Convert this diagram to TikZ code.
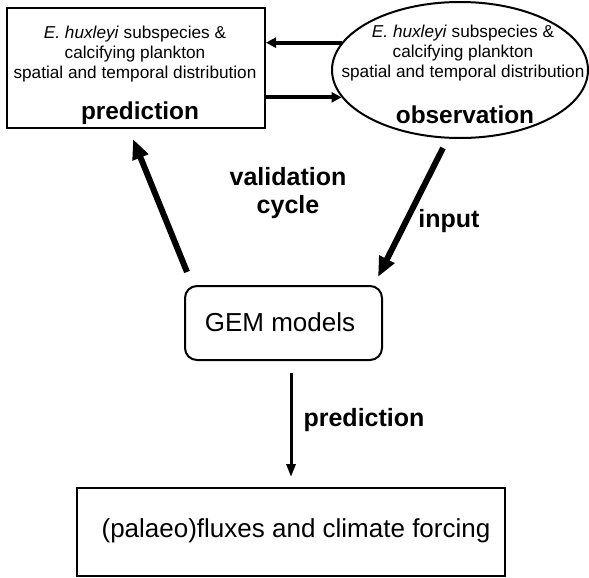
\documentclass[tikz,border=0pt]{standalone}
\usepackage{fontspec}
\setmainfont{Liberation Sans}
\usepackage{tikz}
\usetikzlibrary{shapes,arrows.meta,positioning,calc,shapes.geometric}

\begin{document}
\begin{tikzpicture}[x=0.5pt,y=-0.5pt,
    smalltext/.style={font=\fontsize{8.6}{9.8}\selectfont, align=center, inner sep=0pt},
    bigtext/.style={font=\fontsize{12.2}{14}\selectfont\bfseries, align=center, inner sep=0pt},
    plaintext/.style={font=\fontsize{13}{15}\selectfont, inner sep=0pt},
    fatarrow/.style={-{Triangle[length=10pt,width=8pt]}, line width=3pt},
    midarrow/.style={-{Triangle[length=5pt,width=5pt]}, line width=2pt},
    thinarrow/.style={-{Triangle[length=6.5pt,width=4.5pt]}, line width=1.5pt}]
    \useasboundingbox (0,0) rectangle (589,578);

    % Prediction box (top left)
    \node[draw, line width=1pt, minimum width=129pt, minimum height=60pt] (pred) at (136,68) {};
    \node[smalltext] (predtxt) at (135,54) {\textit{E. huxleyi} subspecies \&\\calcifying plankton\\spatial and temporal distribution};
    \node[bigtext] (predlbl) at (140,113) {prediction};

    % Observation ellipse (top right)
    \node[draw, ellipse, line width=1pt, inner sep=0pt, minimum width=128pt, minimum height=68pt] (obs) at (460,70) {};
    \node[smalltext] (obstxt) at (463,53) {\textit{E. huxleyi} subspecies \&\\calcifying plankton\\spatial and temporal distribution};
    \node[bigtext] (obslbl) at (465,115) {observation};

    % Models
    \node[draw, line width=1pt, rounded corners=6pt, minimum width=98.5pt, minimum height=37pt] (gem) at (283.5,323) {};
    \node[plaintext] (gemtxt) at (280,322) {GEM models};

    % Output box
    \node[draw, line width=1pt, minimum width=214pt, minimum height=44pt] (out) at (291,532) {};
    \node[plaintext] (outtxt) at (296,531) {(palaeo)fluxes and climate forcing};

    % Exchange between prediction and observation
    \draw[midarrow] (obs.167) -- (pred.east |- obs.167);
    \draw[midarrow] (pred.east |- obs.193) -- (obs.193);

    % Validation cycle
    \draw[fatarrow] ($(gem.north west)+(3,-13)$) -- ($(pred.south)+(-3,10)$);
    \draw[fatarrow] ($(obs.south)+(-17,9)$) -- ($(gem.north east)+(-5,-8)$);
    \node[bigtext, font=\fontsize{12.5}{14}\selectfont\bfseries] (cyclelbl) at (288,193) {validation\\cycle};
    \node[bigtext, font=\fontsize{12.5}{14}\selectfont\bfseries] (inputlbl) at (449,221) {input};

    % Prediction downwards
    \draw[thinarrow, shorten <=6pt, shorten >=5pt] (gem.south -| out.north) -- (out.north);
    \node[bigtext, font=\fontsize{12.5}{14}\selectfont\bfseries] (downlbl) at (364,420) {prediction};
\end{tikzpicture}
\end{document}
